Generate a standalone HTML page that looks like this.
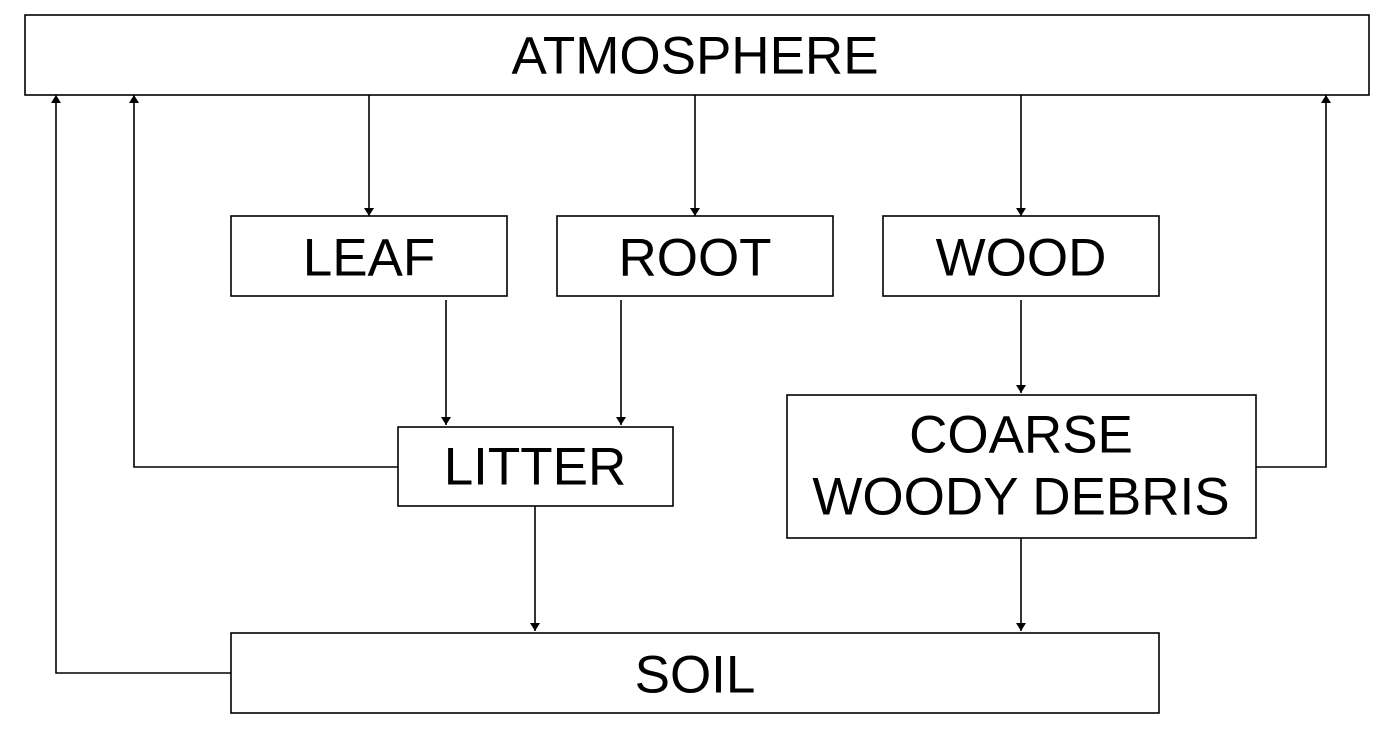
<!DOCTYPE html>
<html><head><meta charset="utf-8"><style>
html,body{margin:0;padding:0;background:#fff;}
svg{display:block;}
text{font-family:"Liberation Sans",Arial,sans-serif;font-size:53px;fill:#000;text-anchor:middle;dominant-baseline:central;}
rect{fill:#fff;stroke:#000;stroke-width:1.6;}
line,polyline{stroke:#000;stroke-width:1.6;fill:none;}
</style></head><body>
<svg width="1392" height="740" viewBox="0 0 1392 740">
<defs><marker id="ah" markerWidth="8" markerHeight="10" refX="8" refY="5" orient="auto" markerUnits="userSpaceOnUse"><path d="M0,0 L8,5 L0,10 z" fill="#000"/></marker></defs>
<g><rect x="25" y="15" width="1344" height="80"/><text x="695" y="56">ATMOSPHERE</text></g>
<g><rect x="231" y="216" width="276" height="80"/><text x="369" y="258">LEAF</text></g>
<g><rect x="557" y="216" width="276" height="80"/><text x="695" y="258">ROOT</text></g>
<g><rect x="883" y="216" width="276" height="80"/><text x="1021" y="258">WOOD</text></g>
<g><rect x="398" y="427" width="275" height="79"/><text x="535" y="467">LITTER</text></g>
<g><rect x="787" y="395" width="469" height="143"/><text x="1021" y="435">COARSE</text><text x="1021" y="497">WOODY DEBRIS</text></g>
<g><rect x="231" y="633" width="928" height="80"/><text x="695" y="675">SOIL</text></g>
<g>
<line x1="369" y1="95" x2="369" y2="216" marker-end="url(#ah)"/>
<line x1="695" y1="95" x2="695" y2="216" marker-end="url(#ah)"/>
<line x1="1021" y1="95" x2="1021" y2="216" marker-end="url(#ah)"/>
<line x1="446" y1="300" x2="446" y2="425" marker-end="url(#ah)"/>
<line x1="621" y1="300" x2="621" y2="425" marker-end="url(#ah)"/>
<line x1="1021" y1="300" x2="1021" y2="393" marker-end="url(#ah)"/>
<line x1="535" y1="506" x2="535" y2="631" marker-end="url(#ah)"/>
<line x1="1021" y1="538" x2="1021" y2="631" marker-end="url(#ah)"/>
<polyline points="398,467 134,467 134,95" marker-end="url(#ah)"/>
<polyline points="231,673 56,673 56,95" marker-end="url(#ah)"/>
<polyline points="1256,467 1326,467 1326,95" marker-end="url(#ah)"/>
</g>
</svg>
</body></html>
